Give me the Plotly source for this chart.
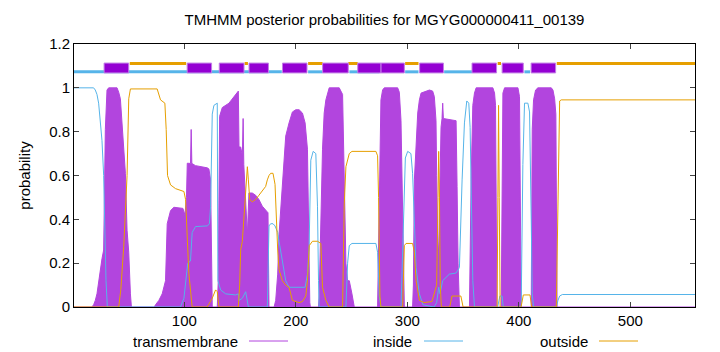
import plotly.graph_objects as go

# ---------------- data ----------------
tm_x = [1, 17, 18.6, 20.1, 21.6, 23.1, 24.6, 26.1, 27.6, 28.5, 29.1, 30.6, 32.1, 39.6, 41.1, 42.6,
        44.7, 47.1, 48.6, 50.1, 51.6, 52.5, 73, 74.1, 77.1, 80.1, 83.1, 84.6, 87.6, 90.6, 98.7,
        100.5, 101.9, 102.6, 105.5, 106.1, 106.7, 110, 120.5, 122, 123.5, 124.4, 125, 129.5,
        130.4, 131.6, 134, 140, 143, 146, 148.4, 149, 150.5, 152, 152.7, 153.3, 155, 156.5,
        157.9, 160.9, 163.9, 166.9, 169.9, 172.9, 175, 175.9, 180.5, 181.9, 183.7, 184.9, 187.9,
        190.9, 193.9, 196.9, 199.9, 202.9, 205.9, 208.3, 210.4, 211.3, 212.5, 213, 220.3, 220.9,
        222.4, 223.9, 225.4, 226.9, 229.9, 238.9, 241.9, 243.4, 244.9, 246.4, 247.9, 250.3,
        252.4, 273.3, 274.2, 275.4, 276.3, 277.8, 279.3, 291.3, 292.8, 294.3, 295.2, 296.4,
        297.3, 304.7, 305.4, 306.3, 307.8, 309.3, 310.8, 312.3, 319.8, 322.7, 324.2, 325.7,
        326.3, 327.2, 328.1, 329.3, 330.2, 331.1, 331.7, 332.3, 343.7, 344.6, 345.5, 346.7,
        355.7, 357.2, 358.7, 360.2, 361.7, 376.7, 378.2, 379.1, 380.3, 384.2, 385.1, 385.7,
        387.2, 399.2, 400.6, 402.1, 411.1, 412, 413.2, 415, 417.1, 429.1, 430.6, 432.1, 433.2,
        434.3, 558]
tm_y = [0, 0, 0.01, 0.03, 0.06, 0.12, 0.18, 0.22, 0.26, 0.6, 0.81, 0.99, 1.0, 1.0, 0.98, 0.95,
        0.79, 0.61, 0.35, 0.25, 0.06, 0, 0, 0.01, 0.03, 0.06, 0.12, 0.38, 0.44, 0.455, 0.45,
        0.42, 0.5, 0.656, 0.655, 0.81, 0.655, 0.645, 0.635, 0.63, 0.58, 0.1, 0, 0,
        0.12, 0.87, 0.91, 0.93, 0.95, 0.97, 0.985, 0.73, 0.73, 0.69, 0.86, 0.65, 0.44, 0.33,
        0.52, 0.52, 0.51, 0.49, 0.46, 0.44, 0.43, 0, 0, 0.03, 0.15, 0.33, 0.58,
        0.78, 0.84, 0.89, 0.9, 0.9, 0.885, 0.84, 0.72, 0.3, 0.02, 0, 0, 0.05,
        0.46, 0.72, 0.885, 0.945, 1.0, 1.0, 0.97, 0.5, 0.2, 0.12, 0.12, 0.06,
        0, 0, 0.3, 0.84, 0.945, 0.99, 1.0, 1.0, 0.98, 0.85, 0.63, 0.2,
        0, 0, 0.1, 0.58, 0.71, 0.885, 0.945, 0.976, 0.99, 0.985, 0.96, 0.85,
        0.6, 0.3, 0.25, 0.5, 0.82, 0.86, 0.93, 0.86, 0.85, 0.55, 0.2, 0,
        0, 0.58, 0.92, 0.976, 1.0, 1.0, 0.976, 0.92, 0, 0, 0.885, 0.976,
        1.0, 1.0, 0.96, 0, 0, 0.81, 0.945, 0.99, 1.0, 1.0, 0.99, 0.95, 0.88,
        0, 0]

inside_x = [1, 18.6, 20.1, 21.6, 23.1, 24.6, 26.1, 27.6, 28.5, 29.7, 30.9, 96.5, 99.6, 101.1, 103,
            105.5, 107, 110, 120.5, 122.5, 123.5, 125, 126.5, 129.5, 130.1, 132.5, 137, 146,
            148.4, 149, 152, 155, 157.4, 174.4, 175.9, 177.4, 179.5, 181.3, 183.7, 184.9, 187.9,
            190.9, 193.9, 208.3, 210.4, 211.9, 213.4, 215.5, 217.9, 219.4, 220.3, 220.9, 244.9,
            246.4, 247.9, 250.3, 271.8, 273.3, 274.8, 276.3, 294.3, 296.4, 298.2, 300.3, 303.2,
            304.7, 306.3, 307.8, 310.8, 314, 324, 326.3, 328.1, 329.3, 331.7, 337.7, 343.7, 346.7,
            349.1, 351.2, 353.3, 355.1, 356.3, 357.5, 358.7, 360.2, 381, 383, 385, 386, 402.1,
            403.6, 405.1, 408.1, 409.6, 411.1, 412, 413.2, 433.6, 435.1, 436.6, 439, 558]
inside_y = [1.0, 1.0, 0.99, 0.97, 0.93, 0.85, 0.76, 0.6, 0.35, 0.12, 0, 0, 0.04, 0.12, 0.2,
            0.21, 0.34, 0.367, 0.37, 0.38, 0.46, 0.88, 0.92, 0.93, 0.12, 0.078, 0.06, 0.055,
            0.06, 0.03, 0.04, 0.07, 0, 0, 0.37, 0.38, 0.38, 0.37, 0.34, 0.3, 0.2,
            0.12, 0.09, 0.09, 0.15, 0.28, 0.67, 0.71, 0.7, 0.46, 0.12, 0, 0,
            0.2, 0.28, 0.29, 0.29, 0.25, 0.05, 0, 0, 0.4, 0.68, 0.71, 0.7,
            0.61, 0.4, 0.18, 0.06, 0.01, 0, 0.02, 0.09, 0.06, 0.12, 0.15, 0.155, 0.18,
            0.58, 0.84, 0.94, 0.93, 0.82, 0.4, 0.12, 0, 0, 0.05, 0.05, 0, 0,
            0.65, 0.93, 0.93, 0.89, 0.4, 0.06, 0, 0, 0.03, 0.05, 0.057, 0.057]

outside_x = [1, 41.1, 43, 45.6, 48.6, 50.1, 51.6, 75.6, 78.6, 82.5, 83.7, 84.9, 87.6, 92.1, 99.6,
             101.1, 104, 107, 120.5, 123, 125, 128, 129.5, 131, 148.4, 149.6, 150.5, 152, 155,
             156.5, 157.4, 158.6, 160.9, 163.9, 166.9, 169.9, 172.9, 174.4, 175.9, 177.4, 179.5,
             181.3, 182.5, 183.7, 184.9, 187.9, 190.9, 193.9, 196.9, 202.9, 205.9, 208.9, 210.4,
             212, 214.9, 219.4, 222.4, 223.9, 226.9, 229.9, 241.9, 243.4, 244.9, 247.9, 250.3,
             271.8, 273.3, 274.2, 275.4, 276.3, 295.8, 297.3, 298.8, 304.7, 306.3, 307.8, 310.8,
             315, 322, 326.3, 327.5, 328.1, 328.8, 329.5, 330.5, 338, 340, 348, 350, 380.5, 381.2,
             381.8, 382.4, 383.2, 402, 404, 410, 411.5, 433.6, 435.1, 436.6, 438, 558]
outside_y = [0, 0, 0.08, 0.275, 0.6, 0.95, 0.995, 0.995, 0.945, 0.93, 0.81, 0.6, 0.557, 0.54, 0.527,
             0.49, 0.154, 0, 0, 0.02, 0.04, 0.078, 0.07, 0, 0, 0.1, 0.26, 0.3, 0.55,
             0.64, 0.58, 0.49, 0.48, 0.49, 0.51, 0.53, 0.55, 0.58, 0.6, 0.61, 0.61,
             0.56, 0.4, 0.26, 0.17, 0.12, 0.1, 0.09, 0.03, 0.02, 0.025, 0.05, 0.12,
             0.28, 0.3, 0.3, 0.29, 0.09, 0.03, 0, 0, 0.47, 0.64, 0.7, 0.71,
             0.71, 0.69, 0.5, 0.05, 0, 0, 0.28, 0.29, 0.29, 0.25, 0.12, 0.03,
             0.02, 0.025, 0.1, 0.5, 0.71, 0.5, 0.1, 0, 0, 0.05, 0.05, 0, 0, 0.5,
             0.92, 0.5, 0, 0, 0.055, 0.055, 0, 0, 0.5, 0.94, 0.945, 0.945]

# predicted topology (start, end) along the sequence
inside_segments = [(1, 187.4), (211, 224), (248, 275), (298, 310), (333, 358), (405, 410)]
outside_segments = [(51, 101.6), (154, 157), (211, 224), (247, 255.5), (298, 310),
                    (381, 384), (434, 558)]
tm_segments = [(28, 50.1), (102.5, 124.4), (131.3, 153.5), (158, 175.4), (188, 210),
               (224, 247), (255.5, 276.4), (276.4, 297.3), (311, 332.4), (358, 380),
               (385, 404), (411, 433)]

title_text = "TMHMM posterior probabilities for MGYG000000411_00139"
series_names = ["transmembrane", "inside", "outside"]
x_ticks = [100, 200, 300, 400, 500]
y_ticks = [0, 0.2, 0.4, 0.6, 0.8, 1.0, 1.2]

# ---------------- styling ----------------
PURPLE = "#9400d3"
TM_FILL = "#b245de"
BLUE = "#56b4e9"
ORANGE = "#e69f00"
FONT = "Liberation Sans"
IN_LEVEL, OUT_LEVEL, BOX_LO, BOX_HI = 1.073, 1.111, 1.068, 1.113


def seg_xy(segs, level):
    xs, ys = [], []
    for a, b in segs:
        xs += [a, b, None]
        ys += [level, level, None]
    return xs, ys


fig = go.Figure()
fig.add_trace(go.Scatter(x=tm_x, y=tm_y, mode="lines", fill="tozeroy",
                         line=dict(color=TM_FILL, width=1), fillcolor=TM_FILL,
                         name=series_names[0], hoverinfo="skip"))
fig.add_trace(go.Scatter(x=inside_x, y=inside_y, mode="lines",
                         line=dict(color=BLUE, width=1), name=series_names[1]))
fig.add_trace(go.Scatter(x=outside_x, y=outside_y, mode="lines",
                         line=dict(color=ORANGE, width=1), name=series_names[2]))

ix, iy = seg_xy(inside_segments, IN_LEVEL)
fig.add_trace(go.Scatter(x=ix, y=iy, mode="lines", line=dict(color=BLUE, width=3),
                         showlegend=False))
ox, oy = seg_xy(outside_segments, OUT_LEVEL)
fig.add_trace(go.Scatter(x=ox, y=oy, mode="lines", line=dict(color=ORANGE, width=3),
                         showlegend=False))

shapes = []
for a, b in tm_segments:
    shapes.append(dict(type="rect", xref="x", yref="y", x0=a, x1=b, y0=BOX_LO, y1=BOX_HI,
                       fillcolor=PURPLE, line=dict(color="#c27ee6", width=1), layer="above"))

# manual legend below the plot (text then line sample, as in gnuplot)
PL, PR, PT, PB = 74, 695, 44, 307
W, H = 720, 352


def px2p(px):
    return (px - PL) / (PR - PL)


def py2p(py):
    return (PB - py) / (PB - PT)


legend_items = [(series_names[0], 240, 249, 288, TM_FILL),
                (series_names[1], 414, 424, 463, BLUE),
                (series_names[2], 590, 599, 638, ORANGE)]
annotations = []
ly = py2p(341)
for name, tx, l0, l1, col in legend_items:
    annotations.append(dict(text=name, xref="paper", yref="paper", x=px2p(tx), y=ly,
                            xanchor="right", yanchor="middle", showarrow=False,
                            font=dict(family=FONT, size=15, color="black")))
    shapes.append(dict(type="line", xref="paper", yref="paper", x0=px2p(l0), x1=px2p(l1),
                       y0=ly, y1=ly, line=dict(color=col, width=1)))

fig.update_layout(
    width=W, height=H,
    margin=dict(l=PL, r=W - PR, t=PT, b=H - PB, pad=0),
    paper_bgcolor="white", plot_bgcolor="white",
    showlegend=False,
    title=dict(text=title_text, x=(PL + PR) / 2 / W, xanchor="center", y=1 - 20 / H,
               yanchor="middle", font=dict(family=FONT, size=15, color="black")),
    font=dict(family=FONT, size=15, color="black"),
    shapes=shapes, annotations=annotations,
)
fig.update_xaxes(range=[1, 558], tickvals=x_ticks, ticks="inside", ticklen=5,
                 tickcolor="#444", showline=True, linecolor="black", linewidth=1,
                 mirror="ticks", showgrid=False, zeroline=False,
                 tickfont=dict(family=FONT, size=15))
fig.update_yaxes(range=[0, 1.2], tickvals=y_ticks, ticks="inside", ticklen=5,
                 tickcolor="#444", showline=True, linecolor="black", linewidth=1,
                 mirror="ticks", showgrid=False, zeroline=False,
                 title=dict(text="probability", font=dict(family=FONT, size=15), standoff=14),
                 tickfont=dict(family=FONT, size=15))

fig.write_html("out.html")
